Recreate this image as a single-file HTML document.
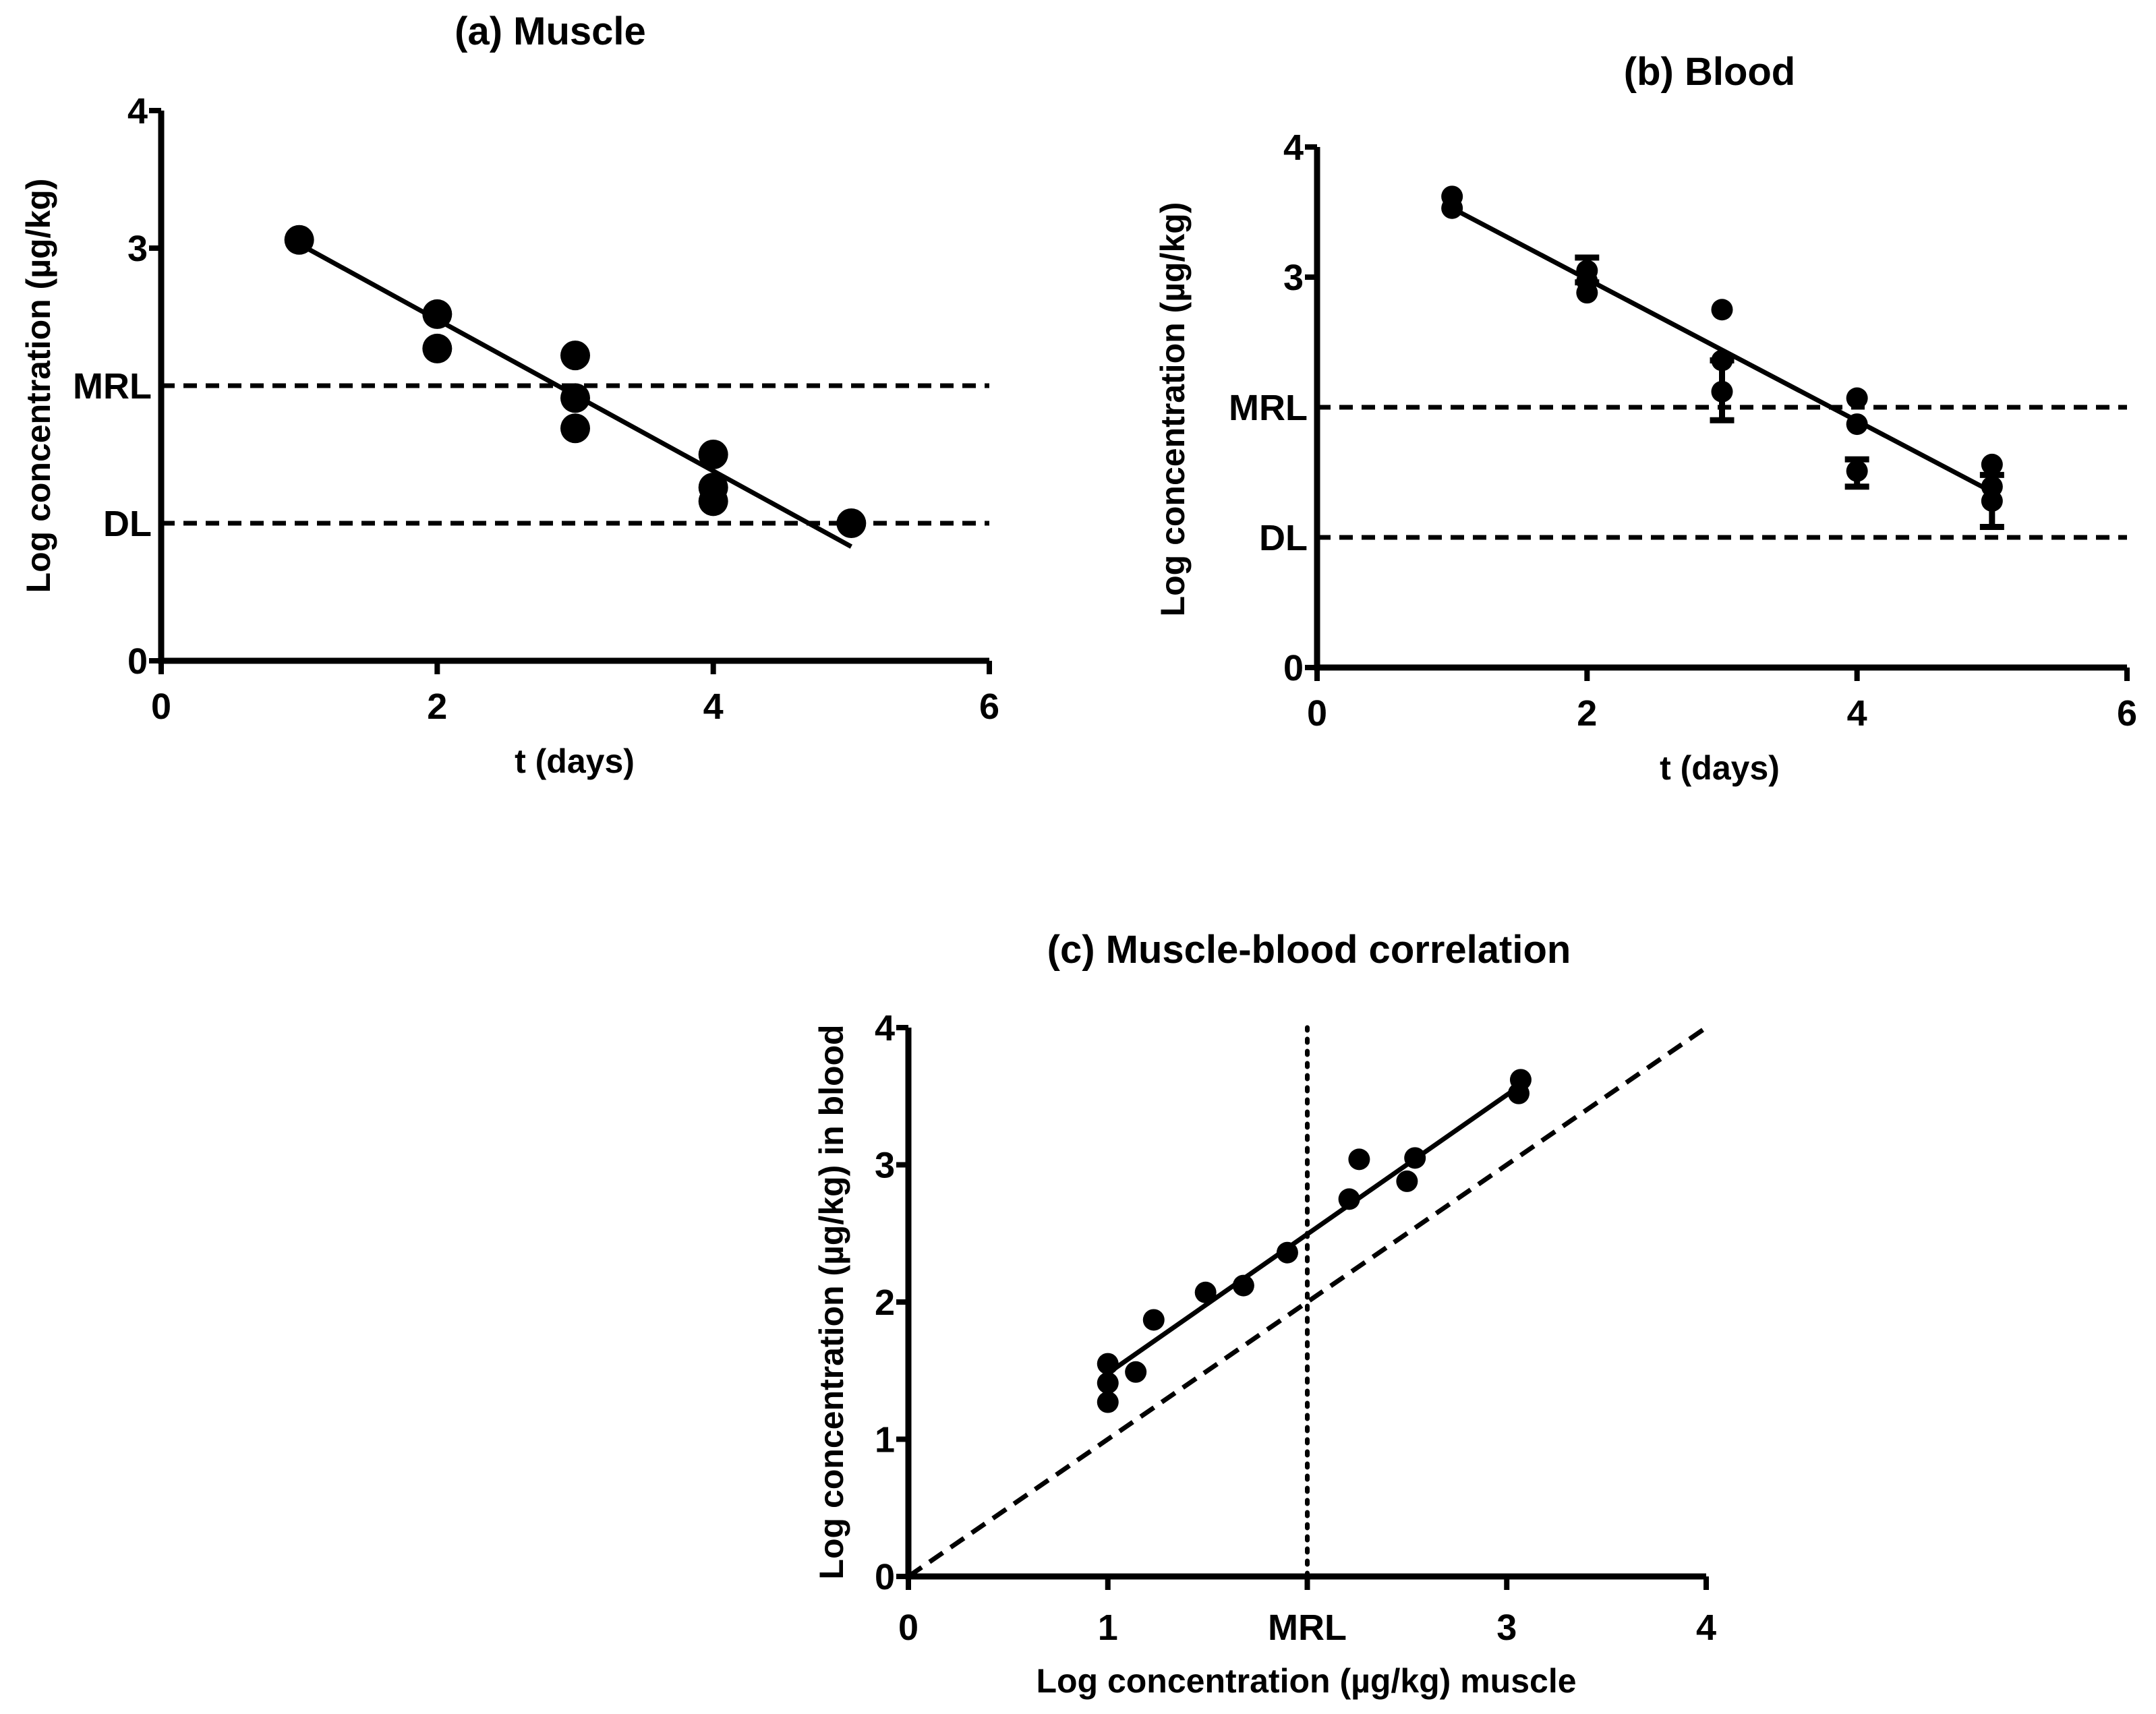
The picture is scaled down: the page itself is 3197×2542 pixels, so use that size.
<!DOCTYPE html>
<html><head><meta charset="utf-8"><style>
html,body{margin:0;padding:0;background:#fff;}
svg{display:block;font-family:"Liberation Sans",Arial,sans-serif;font-weight:bold;}
</style></head><body>
<svg id="fig" width="3197" height="2542" viewBox="0 0 3197 2542" xmlns="http://www.w3.org/2000/svg"></svg>
<script>
// Panel (a) muscle
const muscleDays = [1, 2, 2, 3, 3, 3, 4, 4, 4, 5];
const muscleLog = [3.06, 2.52, 2.27, 2.22, 1.91, 1.69, 1.50, 1.26, 1.16, 1.0];
const muscleFitX = [1, 5];
const muscleFitY = [3.03, 0.83];
// Panel (b) blood
const bloodDays = [1, 1, 2, 2, 2, 3, 3, 3, 4, 4, 4, 5, 5, 5];
const bloodLog = [3.62, 3.53, 3.05, 2.97, 2.88, 2.75, 2.36, 2.12, 2.07, 1.87, 1.51, 1.56, 1.39, 1.28];
const bloodErrDays = [2, 3, 4, 5];
const bloodErrLow = [2.96, 1.90, 1.39, 1.08];
const bloodErrHigh = [3.15, 2.36, 1.60, 1.48];
const bloodFitX = [1, 5];
const bloodFitY = [3.53, 1.35];
// Panel (c) correlation
const corrMuscle = [1.0, 1.0, 1.0, 1.14, 1.23, 1.49, 1.68, 1.90, 2.21, 2.26, 2.50, 2.54, 3.07, 3.06];
const corrBlood = [1.55, 1.41, 1.27, 1.49, 1.87, 2.07, 2.12, 2.36, 2.75, 3.04, 2.88, 3.05, 3.62, 3.52];
const corrFitX = [1.0, 3.07];
const corrFitY = [1.48, 3.58];
const timeTicks = [0, 2, 4, 6];
const logTicks = [0, 3, 4];
const corrYTicks = [0, 1, 2, 3, 4];
const corrXTicks = ["0", "1", "MRL", "3", "4"];

const NS = "http://www.w3.org/2000/svg";
const svg = document.getElementById("fig");
function el(tag, attrs, parent, text) {
  const e = document.createElementNS(NS, tag);
  for (const k in attrs) e.setAttribute(k, attrs[k]);
  if (text !== undefined) e.textContent = text;
  (parent || svg).appendChild(e);
  return e;
}
function panel(p) {
  const g = el("g", {});
  
  
  const sx = v => p.x0 + (v - p.xmin) / (p.xmax - p.xmin) * (p.x1 - p.x0);
  const sy = v => p.y0 - (v - p.ymin) / (p.ymax - p.ymin) * (p.y0 - p.y1);
  p.sx = sx; p.sy = sy; p.g = g;
  const t = el("text", {x: p.tx, y: p.ty, "font-size": 58, "text-anchor": "middle"}, g, p.title);
  
  
  const ax = el("path", {d: `M${p.x0},${p.y1}V${p.y0}H${p.x1}`, stroke: "#000", "stroke-width": 9, fill: "none"}, g);
  
  
  return p;
}
function ticksY(p, vals, labels) {
  vals.forEach((v, i) => {
    el("line", {x1: p.x0 - 18, x2: p.x0, y1: p.sy(v), y2: p.sy(v), stroke: "#000", "stroke-width": 8}, p.g);
    const t = el("text", {x: p.x0 - 20, y: p.sy(v) + 19, "font-size": 54, "text-anchor": "end"}, p.g, labels ? labels[i] : String(v));
    
    
  });
}
function ticksX(p, vals, labels, ly) {
  vals.forEach((v, i) => {
    el("line", {x1: p.sx(v), x2: p.sx(v), y1: p.y0, y2: p.y0 + 20, stroke: "#000", "stroke-width": 8}, p.g);
    const t = el("text", {x: p.sx(v), y: ly, "font-size": 54, "text-anchor": "middle"}, p.g, labels ? labels[i] : String(v));
    
    
  });
}
function hline(p, v, label) {
  const l = el("line", {x1: p.x0, x2: p.x1, y1: p.sy(v), y2: p.sy(v), stroke: "#000", "stroke-width": 7, "stroke-dasharray": "20 13"}, p.g);
  
  
  const t = el("text", {x: p.x0 - 14, y: p.sy(v) + 19, "font-size": 54, "text-anchor": "end"}, p.g, label);
  
  
}
function dots(p, xs, ys, r) {
  xs.forEach((x, i) => {
    const c = el("circle", {cx: p.sx(x), cy: p.sy(ys[i]), r: r, fill: "#000"}, p.g);
    
    
  });
}
function fit(p, xs, ys) {
  const l = el("line", {x1: p.sx(xs[0]), y1: p.sy(ys[0]), x2: p.sx(xs[1]), y2: p.sy(ys[1]), stroke: "#000", "stroke-width": 7}, p.g);
  
  
}
function titles(p, xt, xtx, xty, yt, ytx, yty) {
  const a = el("text", {x: xtx, y: xty, "font-size": 50, "text-anchor": "middle"}, p.g, xt);
  
  
  const b = el("text", {x: 0, y: 0, "font-size": 50, "text-anchor": "middle", transform: `translate(${ytx},${yty}) rotate(-90)`}, p.g, yt);
  
  
}

// (a)
const A = panel({name: "panel-muscle", title: "(a) Muscle", tx: 816, ty: 66, x0: 239, x1: 1467, y0: 980, y1: 164, xmin: 0, xmax: 6, ymin: 0, ymax: 4});
ticksY(A, logTicks);
ticksX(A, timeTicks, null, 1066);
hline(A, 2, "MRL"); hline(A, 1, "DL");
fit(A, muscleFitX, muscleFitY);
dots(A, muscleDays, muscleLog, 22);
titles(A, "t (days)", 852, 1146, "Log concentration (µg/kg)", 74, 572);

// (b)
const B = panel({name: "panel-blood", title: "(b) Blood", tx: 2535, ty: 126, x0: 1953, x1: 3154, y0: 990, y1: 218, xmin: 0, xmax: 6, ymin: 0, ymax: 4});
ticksY(B, logTicks);
ticksX(B, timeTicks, null, 1076);
hline(B, 2, "MRL"); hline(B, 1, "DL");
bloodErrDays.forEach((d, i) => {
  const x = B.sx(d), lo = B.sy(bloodErrLow[i]), hi = B.sy(bloodErrHigh[i]);
  const e = el("path", {d: `M${x},${lo}V${hi}M${x-18},${lo}H${x+18}M${x-18},${hi}H${x+18}`, stroke: "#000", "stroke-width": 9, fill: "none"}, B.g);
  
  
});
fit(B, bloodFitX, bloodFitY);
dots(B, bloodDays, bloodLog, 16);
titles(B, "t (days)", 2550, 1156, "Log concentration (µg/kg)", 1756, 607);

// (c)
const C = panel({name: "panel-correlation", title: "(c) Muscle-blood correlation", tx: 1941, ty: 1428, x0: 1347, x1: 2530, y0: 2338, y1: 1524, xmin: 0, xmax: 4, ymin: 0, ymax: 4});
ticksY(C, corrYTicks);
ticksX(C, [0, 1, 2, 3, 4], corrXTicks, 2432);
const mrl = el("line", {x1: C.sx(2), x2: C.sx(2), y1: C.y0, y2: C.y1, stroke: "#000", "stroke-width": 7, "stroke-dasharray": "5 13", "stroke-linecap": "round"}, C.g);


const idl = el("line", {x1: C.sx(0), y1: C.sy(0), x2: C.sx(4), y2: C.sy(4), stroke: "#000", "stroke-width": 7, "stroke-dasharray": "24 14"}, C.g);


fit(C, corrFitX, corrFitY);
dots(C, corrMuscle, corrBlood, 16);
titles(C, "Log concentration (µg/kg) muscle", 1937, 2510, "Log concentration (µg/kg) in blood", 1250, 1931);
</script>
</body></html>
